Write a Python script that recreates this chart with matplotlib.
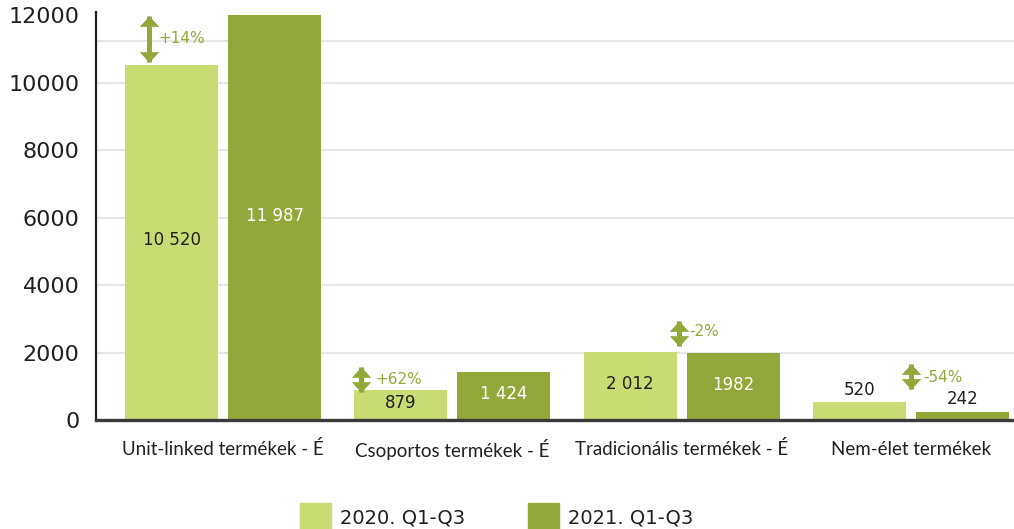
import numpy as np
import matplotlib
matplotlib.use("Agg")
import matplotlib.pyplot as plt
from matplotlib.patches import Rectangle
from matplotlib.path import Path
from matplotlib.transforms import offset_copy

categories = ["Unit-linked termékek - É", "Csoportos termékek - É",
              "Tradicionális termékek - É", "Nem-élet termékek"]
series_names = ["2020. Q1-Q3", "2021. Q1-Q3"]
values_2020 = [10520, 879, 2012, 520]
values_2021 = [11987, 1424, 1982, 242]
labels_2020 = ["10 520", "879", "2 012", "520"]
labels_2021 = ["11 987", "1 424", "1982", "242"]
changes = ["+14%", "+62%", "-2%", "-54%"]
yticks = [0, 2000, 4000, 6000, 8000, 10000, 12000]

light = "#c8dc73"
dark = "#93a83a"
txt = "#231f20"

# where the change arrows sit (x offset from group centre, y from / to)
arrow_x = [-0.323, -0.397, -0.01, 0.0]
arrow_y = [(10607, 11970), (830, 1570), (2193, 2933), (919, 1659)]
pct_pos = [(-0.283, 11318), (-0.336, 1215), (0.035, 2637), (0.052, 1274)]

fig = plt.figure(figsize=(10.14, 5.29), dpi=100)
ax = fig.add_axes([0.0947, 0.206, 0.9053, 0.772])

x = np.arange(len(categories))
w = 0.4056
off = 0.2246

for gy in [2000, 4000, 6000, 8000, 10000, 11230]:
    ax.axhline(gy, color="#e6e6e6", lw=1.6, zorder=0)

b1 = ax.bar(x - off, values_2020, w, color=light, zorder=2)
b2 = ax.bar(x + off, values_2021, w, color=dark, zorder=2)

# value labels
for i in range(len(categories)):
    for bars, vals, labs, col in [(b1, values_2020, labels_2020, txt),
                                  (b2, values_2021, labels_2021, "white")]:
        xc = bars[i].get_x() + w / 2
        if vals[i] > 700:
            ax.text(xc, vals[i] / 2 + 60, labs[i], ha="center", va="center",
                    fontsize=12, color=col, zorder=4)
        else:
            ax.text(xc, vals[i] + 370, labs[i], ha="center", va="center",
                    fontsize=12, color=txt, zorder=4)

# double headed arrows: a shaft plus two flat triangles
head_up = Path([(-1, -0.55), (1, -0.55), (0, 0.55), (-1, -0.55)],
               [Path.MOVETO, Path.LINETO, Path.LINETO, Path.CLOSEPOLY])
head_dn = Path([(-1, 0.55), (1, 0.55), (0, -0.55), (-1, 0.55)],
               [Path.MOVETO, Path.LINETO, Path.LINETO, Path.CLOSEPOLY])
ms = 14
t_up = offset_copy(ax.transData, fig=fig, y=-0.275 * ms, units="points")
t_dn = offset_copy(ax.transData, fig=fig, y=0.275 * ms, units="points")

for i in range(len(categories)):
    xa = x[i] + arrow_x[i]
    lo, hi = arrow_y[i]
    ax.plot([xa, xa], [lo, hi], color=dark, lw=3.6, solid_capstyle="butt",
            zorder=5)
    ax.plot([xa], [hi], marker=head_up, ms=ms, color=dark, mew=0,
            transform=t_up, zorder=5)
    ax.plot([xa], [lo], marker=head_dn, ms=ms, color=dark, mew=0,
            transform=t_dn, zorder=5)
    ax.text(x[i] + pct_pos[i][0], pct_pos[i][1], changes[i], ha="left",
            va="center", fontsize=11, color=dark, zorder=5)

ax.set_xlim(-0.554, 3.45)
ax.set_ylim(0, 12100)
ax.set_yticks(yticks)
ax.set_yticklabels([str(t) for t in yticks], fontsize=16, color=txt)
ax.tick_params(axis="y", length=0, pad=12)
ax.set_xticks(x)
ax.set_xticklabels(categories, fontsize=13.5, color=txt, family="Lato")
for lbl in ax.get_xticklabels():
    lbl.set_va("center")
ax.tick_params(axis="x", length=0, pad=21)

for sp in ["top", "right"]:
    ax.spines[sp].set_visible(False)
ax.spines["left"].set_color("#231f20")
ax.spines["left"].set_linewidth(1.6)
ax.spines["bottom"].set_color("#3a3a3a")
ax.spines["bottom"].set_linewidth(2.4)

# legend at the bottom
W, H = 1014, 529
for px, name, col in [(300, series_names[0], light), (528, series_names[1], dark)]:
    fig.patches.append(Rectangle((px / W, 0), 31 / W, 26 / H,
                                 transform=fig.transFigure, color=col))
    fig.text((px + 40) / W, 1 - 518 / H, name, fontsize=14, color=txt,
             ha="left", va="center")

fig.savefig("out.png", dpi=100)
